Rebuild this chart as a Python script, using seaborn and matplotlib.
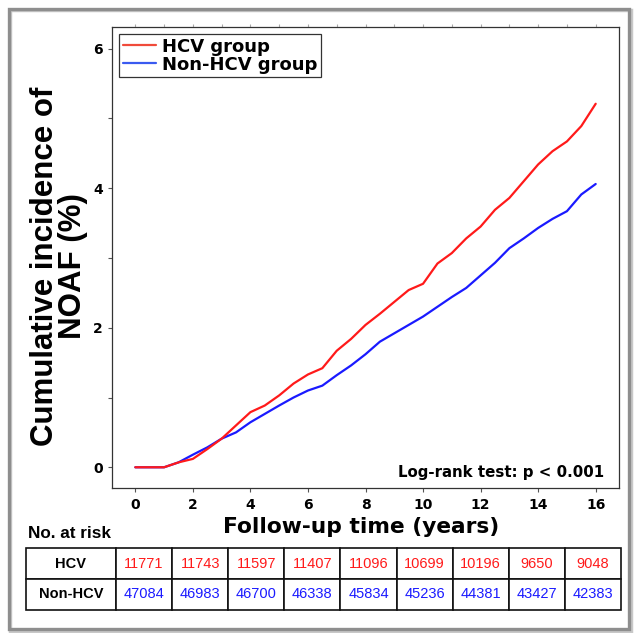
import matplotlib
matplotlib.use("Agg")
import matplotlib.pyplot as plt
import matplotlib.patches as mpatches
import seaborn as sns
import pandas as pd

# ---------------- data ----------------
time_years = [0, 0.5, 1, 1.5, 2, 2.5, 3, 3.5, 4, 4.5, 5, 5.5, 6, 6.5, 7, 7.5, 8,
              8.5, 9, 9.5, 10, 10.5, 11, 11.5, 12, 12.5, 13, 13.5, 14, 14.5, 15, 15.5, 16]
hcv_incidence = [0, 0, 0, 0.07, 0.12, 0.26, 0.41, 0.60, 0.79, 0.885, 1.03, 1.20, 1.33,
                 1.42, 1.67, 1.84, 2.04, 2.20, 2.37, 2.54, 2.63, 2.92, 3.07, 3.28, 3.45,
                 3.69, 3.86, 4.10, 4.34, 4.53, 4.67, 4.89, 5.21]
nonhcv_incidence = [0, 0, 0, 0.07, 0.18, 0.285, 0.41, 0.50, 0.645, 0.765, 0.885, 1.0,
                    1.10, 1.17, 1.32, 1.46, 1.62, 1.80, 1.92, 2.04, 2.16, 2.30, 2.44,
                    2.57, 2.75, 2.93, 3.14, 3.28, 3.43, 3.56, 3.67, 3.91, 4.06]
group_names = ["HCV group", "Non-HCV group"]
risk_row_labels = ["HCV", "Non-HCV"]
hcv_at_risk = [11771, 11743, 11597, 11407, 11096, 10699, 10196, 9650, 9048]
nonhcv_at_risk = [47084, 46983, 46700, 46338, 45834, 45236, 44381, 43427, 42383]
x_ticks = [0, 2, 4, 6, 8, 10, 12, 14, 16]
y_ticks = [0, 2, 4, 6]

RED = "#ff1a1a"
BLUE = "#1a1aff"
WIDE = ["DejaVu Sans"]
NARROW = ["Liberation Sans", "DejaVu Sans"]

sns.set_theme(style="white")
plt.rcParams["font.family"] = NARROW
plt.rcParams["text.color"] = "black"
plt.rcParams["xtick.color"] = "black"
plt.rcParams["ytick.color"] = "black"

df = pd.concat([
    pd.DataFrame({"t": time_years, "ci": hcv_incidence, "group": group_names[0]}),
    pd.DataFrame({"t": time_years, "ci": nonhcv_incidence, "group": group_names[1]}),
])

W, H = 636, 633
fig = plt.figure(figsize=(W / 100, H / 100), dpi=100)


def fx(px):
    return px / W


def fy(py):
    return 1 - py / H


# outer gray frame with a light shadow
fig.patches.append(mpatches.Rectangle((fx(10), fy(632)), (631 - 10) / W, (632 - 10) / H,
                                      transform=fig.transFigure, fill=False,
                                      edgecolor="#c8c8c8", linewidth=2.5, zorder=0))
fig.patches.append(mpatches.Rectangle((fx(8.5), fy(629)), (629 - 8.5) / W, (629 - 8.5) / H,
                                      transform=fig.transFigure, fill=False,
                                      edgecolor="#8e8e8e", linewidth=2.4, zorder=1))

ax = fig.add_axes([fx(112), fy(488), (619 - 112) / W, (488 - 27) / H])
sns.lineplot(data=df, x="t", y="ci", hue="group", palette=[RED, BLUE],
             linewidth=1.6, ax=ax, legend=False)
for ln in ax.get_lines():
    ln.set_zorder(4 if ln.get_color() == RED else 3)

ax.set_xlim(-0.81, 16.81)
ax.set_ylim(-0.297, 6.31)
ax.set_xticks(x_ticks)
ax.set_yticks(y_ticks)
ax.set_yticks([1, 3, 5], minor=True)
ax.set_xticklabels([str(v) for v in x_ticks], fontsize=10, fontweight="bold", family=WIDE)
ax.set_yticklabels([str(v) for v in y_ticks], fontsize=10, fontweight="bold", family=WIDE)
ax.tick_params(axis="both", which="both", direction="out", length=3, width=0.8,
               color="#555555", labelcolor="black", left=True, bottom=True)
ax.tick_params(axis="x", pad=4)
ax.tick_params(axis="y", pad=3.5)
for s in ax.spines.values():
    s.set_color("#333333")
    s.set_linewidth(0.9)

sec = ax.secondary_xaxis("top")
sec.set_xticks(list(range(0, 17)))
sec.tick_params(length=2.5, width=0.8, color="#aaaaaa", labeltop=False)
sec.spines["top"].set_visible(False)

ax.set_xlabel("")
ax.set_ylabel("")
fig.text(fx(361), fy(527), "Follow-up time (years)", ha="center", va="center",
         fontsize=15.7, fontweight="bold", family=WIDE, color="black")
fig.text(fx(59), fy(266), "Cumulative incidence of\nNOAF (%)", ha="center", va="center",
         rotation=90, multialignment="center", fontsize=22.5, fontweight="bold",
         linespacing=0.95, color="black")

handles = [plt.Line2D([], [], color="#f04a3a", lw=1.6),
           plt.Line2D([], [], color="#3a5af0", lw=1.6)]
leg = ax.legend(handles, group_names, loc="upper left",
                bbox_to_anchor=((119 - 112) / 507, (488 - 34) / 461),
                frameon=True, fancybox=False, edgecolor="#333333", framealpha=1,
                prop={"weight": "bold", "size": 13, "family": WIDE}, handlelength=1.85,
                handletextpad=0.33, borderpad=0.2, labelspacing=0.0, borderaxespad=0)
leg.get_frame().set_linewidth(0.9)
for t in leg.get_texts():
    t.set_color("black")

ax.text((604 - 112) / 507, (488 - 472) / 461, "Log-rank test: p < 0.001",
        transform=ax.transAxes, ha="right", va="center", fontsize=10.8,
        fontweight="bold", family=WIDE, color="black")

fig.text(fx(28), fy(533), "No. at risk", ha="left", va="center",
         fontsize=12.3, fontweight="bold", color="black")

# numbers-at-risk table
tab_ax = fig.add_axes([fx(26), fy(610), (621 - 26) / W, (610 - 548) / H])
tab_ax.set_axis_off()
cell_text = [[risk_row_labels[0]] + [str(v) for v in hcv_at_risk],
             [risk_row_labels[1]] + [str(v) for v in nonhcv_at_risk]]
first_w = 90.0
other_w = (595.0 - first_w) / len(hcv_at_risk)
col_widths = [first_w / 595.0] + [other_w / 595.0] * len(hcv_at_risk)
tbl = tab_ax.table(cellText=cell_text, cellLoc="center", colWidths=col_widths,
                   bbox=[0, 0, 1, 1])
tbl.auto_set_font_size(False)
for (r, c), cell in tbl.get_celld().items():
    cell.set_edgecolor("#111111")
    cell.set_linewidth(1.2)
    txt = cell.get_text()
    txt.set_fontsize(10.5)
    if c == 0:
        txt.set_fontweight("bold")
        txt.set_color("black")
    else:
        txt.set_color(RED if r == 0 else BLUE)

fig.savefig("out.png", dpi=100)
